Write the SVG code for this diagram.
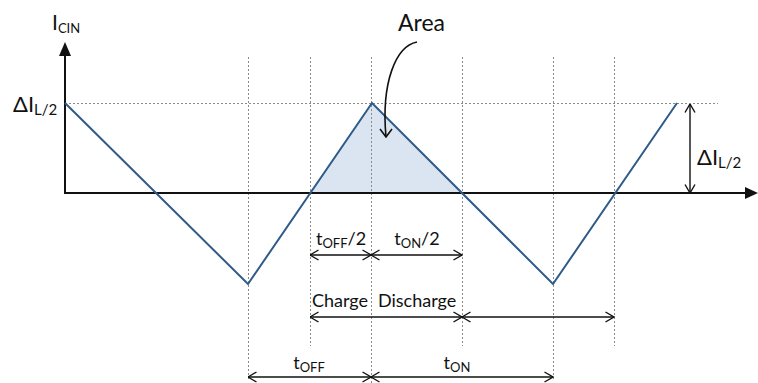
<svg xmlns="http://www.w3.org/2000/svg" width="758" height="383" viewBox="0 0 758 383">
<style>
.t{font-family:Lato,"Open Sans","Liberation Sans",sans-serif;fill:#111;font-size:18px}
.s{font-size:13px}
.grid{stroke:#8a8a8a;stroke-width:1;stroke-dasharray:2,2;fill:none}
.wave{stroke:#2f5b88;stroke-width:2;fill:none}
.axis{stroke:#111;stroke-width:2;fill:none}
.dim{stroke:#111;stroke-width:1.4;fill:none;marker-start:url(#oa);marker-end:url(#oa)}
</style>
<defs>
<marker id="oa" viewBox="0 0 10 12" refX="9.5" refY="6" markerWidth="10" markerHeight="12" markerUnits="userSpaceOnUse" orient="auto-start-reverse">
<path d="M1,1 L9.5,6 L1,11" fill="none" stroke="#111" stroke-width="1.4"/>
</marker>
<marker id="va" viewBox="0 0 14 10" refX="7" refY="9" markerWidth="14" markerHeight="10" markerUnits="userSpaceOnUse" orient="0">
<path d="M1,1 L7,9 L13,1" fill="none" stroke="#111" stroke-width="1.6"/>
</marker>
</defs>
<g id="area-fill"><polygon points="310,193 372,103 462,193" fill="#dbe5f1"/></g>
<g id="grid">
<line class="grid" x1="65" y1="103.5" x2="718" y2="103.5"/>
<line class="grid" x1="248.5" y1="57" x2="248.5" y2="380"/>
<line class="grid" x1="310.5" y1="57" x2="310.5" y2="346"/>
<line class="grid" x1="371.5" y1="57" x2="371.5" y2="383"/>
<line class="grid" x1="462.5" y1="57" x2="462.5" y2="346"/>
<line class="grid" x1="553.5" y1="57" x2="553.5" y2="380"/>
<line class="grid" x1="614.5" y1="57" x2="614.5" y2="346"/>
</g>
<g id="axes">
<polyline class="axis" points="65,54 65,193 746,193"/>
<polygon points="65,42 59,56 71,56" fill="#111"/>
<polygon points="758,193 745,187 745,199" fill="#111"/>
</g>
<g id="waveform"><polyline class="wave" points="65,103 248,284 372,103 553,284 677,103"/></g>
<g id="connectors">
<line class="dim" x1="310" y1="255" x2="371" y2="255"/>
<line class="dim" x1="371" y1="255" x2="462" y2="255"/>
<line class="dim" x1="310" y1="317" x2="462" y2="317"/>
<line class="dim" x1="462" y1="317" x2="614" y2="317"/>
<line class="dim" x1="248" y1="377" x2="371" y2="377"/>
<line class="dim" x1="371" y1="377" x2="553" y2="377"/>
<line class="dim" x1="690" y1="104" x2="690" y2="193"/>
<path d="M417,42 C396,46 381,82 386,137" fill="none" stroke="#111" stroke-width="1.6" marker-end="url(#va)"/>
</g>
<g id="labels">
<text class="t" x="52" y="30" style="font-size:21px">I<tspan class="s" dy="3">CIN</tspan></text>
<text class="t" x="13" y="112" style="font-size:22px">ΔI<tspan style="font-size:15px" dy="3">L/2</tspan></text>
<text class="t" x="697" y="165" style="font-size:22px">ΔI<tspan style="font-size:15px" dy="3">L/2</tspan></text>
<text class="t" x="398" y="31" style="font-size:23px">Area</text>
<text class="t" x="341" y="245" text-anchor="middle">t<tspan class="s" dy="3">OFF</tspan><tspan dy="-3">/2</tspan></text>
<text class="t" x="417" y="245" text-anchor="middle">t<tspan class="s" dy="3">ON</tspan><tspan dy="-3">/2</tspan></text>
<text class="t" x="312" y="307">Charge</text>
<text class="t" x="378" y="307">Discharge</text>
<text class="t" x="309" y="369" text-anchor="middle">t<tspan class="s" dy="3">OFF</tspan></text>
<text class="t" x="457" y="369" text-anchor="middle">t<tspan class="s" dy="3">ON</tspan></text>
</g>
</svg>
